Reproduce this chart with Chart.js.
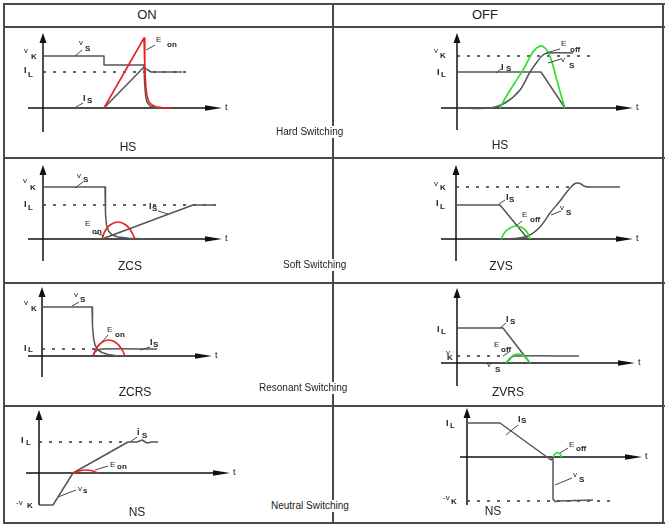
<!DOCTYPE html>
<html><head><meta charset="utf-8">
<script src="https://cdn.jsdelivr.net/npm/chart.js@4.4.1/dist/chart.umd.min.js"></script>
<style>
html,body{margin:0;padding:0;background:#fff}
body{width:667px;height:528px;position:relative;overflow:hidden;font-family:"Liberation Sans",Arial,sans-serif;color:#222}
canvas{position:absolute}
.ln{position:absolute;background:#4a4a4a;z-index:2}
.tx{position:absolute;white-space:nowrap;line-height:1;transform:translate(-50%,-50%);z-index:3}
.mid{position:absolute;white-space:nowrap;line-height:1;font-size:10px;background:#fff;padding:1px 0;transform:translateY(-50%);z-index:3}
</style></head><body>
<script>
// ---------- data (time offset from origin, value above origin) ----------
// Hard switching ON
const hsOnEon = [[61,0],[101,70],[101.8,40],[102.8,22],[104,12],[106,6],[109,3],[113,1.2],[120,0.3],[129,0]];
const hsOnVs  = [[0,52],[61,52],[61,43],[101,43],[101.6,25],[102.6,12],[104,6],[107,2],[112,0.5],[120,0]];
const hsOnIs  = [[61,0],[101,41],[104,38.5],[108,36],[139,36]];
const hsOnIL  = [[0,36],[150,36]];
// Hard switching OFF
const hsOffEoff = [[43,0],[49,11],[57,24],[66,38],[76,56],[83,62],[88,60],[93,52],[99,31],[104,13],[108,0]];
const hsOffVs   = [[0,0],[33,0],[48,5],[63,18],[73,36],[80,46],[86,53],[91,55],[116,55]];
const hsOffIs   = [[0,36],[84,36],[108,0]];
const hsOffVK   = [[0,52],[138,52]];
// ZCS (ON)
const zcsEon = [[59,0],[62,8],[67,14],[75,17],[83,14],[88,8],[92,0]];
const zcsVs  = [[0,52],[62,52],[62.5,25],[63.5,14],[65.5,8],[69,4],[75,2],[86,0.7],[105,0]];
const zcsIs  = [[59,0],[150,34],[170,34]];
const zcsIL  = [[0,34],[174,34]];
// ZVS (OFF)
const zvsEoff = [[45,0],[49,7],[54,11],[60,13],[66,11.5],[71,7],[74,0]];
const zvsVs   = [[44,0],[58,0.5],[72,3],[84,12],[94,26],[104,38],[110,46],[115,52],[119,55.5],[122,56],[125,55],[129,52.5],[135,52],[164,52]];
const zvsIs   = [[0,34],[44,34],[72,0]];
const zvsVK   = [[0,52],[114,52]];
// ZCRS (ON)
const zcrsEon = [[51,0],[54,7],[59,13],[66,16],[73,14],[79,8],[83,0]];
const zcrsVs  = [[0,49],[50,49],[50.5,30],[51.5,18],[53,11],[56,6],[60,3.5],[66,1.5],[73,0.5],[85,0]];
const zcrsIs  = [[51,0],[53,4],[56,6],[60,7],[115,7]];
const zcrsIL  = [[0,7],[53,7]];
// ZVRS (OFF)
const zvrsEoff = [[49,0],[53,5],[57,8],[61,9],[66,7.5],[70,4],[73,0]];
const zvrsVs   = [[49,0],[52,3],[55,6],[58,7],[122,7]];
const zvrsIs   = [[0,35],[46,35],[73,0]];
const zvrsVK   = [[0,7],[49,7]];
// NS (ON)
const nsOnEon  = [[34,0],[40,2],[47,3],[53,2.2],[59,0]];
const nsOnVsIs = [[0,-32],[14,-32],[34,0],[89,31],[98,31],[103,33],[108,30],[113,31],[119,31]];
const nsOnIL   = [[0,31],[89,31]];
// NS (OFF)
const nsOffEoff = [[86,0],[88,3],[90.5,4.3],[93,3],[94.5,0]];
const nsOffIs   = [[0,34],[33,34],[84,-3],[86,0]];
const nsOffVs   = [[86,0],[86,-42],[88,-44.5],[92,-44],[126,-43]];
const nsOffVK   = [[0,-44],[146,-44]];

// ---------- text ----------
const headers = ['ON','OFF'];
const modeNames = ['HS','HS','ZCS','ZVS','ZCRS','ZVRS','NS','NS'];
const rowNames = ['Hard Switching','Soft Switching','Resonant Switching','Neutral Switching'];

// ---------- styles ----------
const STY = {
  red:  {c:'#e8231f', w:1.6, t:0},
  redc: {c:'#e8231f', w:1.6, t:0.4},
  grn:  {c:'#2fe02f', w:1.7, t:0.4},
  wave: {c:'#555555', w:1.5, t:0},
  wavec:{c:'#555555', w:1.5, t:0.35},
  dash: {c:'#333333', w:1.3, t:0, d:[3,7]}
};

// ---------- layout ----------
const cells = [
 {rect:[3,27,333,158], o:[43,108], xa:[-15,179], ya:[-24,75], s:[[hsOnEon,'red'],[hsOnVs,'wave'],[hsOnIs,'wave'],[hsOnIL,'dash']],
  lab:[['v',24,51,'K',31,57],['I',24,71,'L',28,75],['v',79,43,'S',85,49],['I',83,99,'S',87,101],['E',156,40,'on',167,45]],
  lead:[[75,56,82,50],[76,107,83,103],[146,50,155,45]], name:[128,147]},
 {rect:[333,27,663,158], o:[457,108], xa:[-16,176], ya:[-22,75], s:[[hsOffEoff,'grn'],[hsOffVs,'wavec'],[hsOffIs,'wave'],[hsOffVK,'dash']],
  lab:[['v',434,51,'K',440,56],['I',437,73,'L',441,75],['I',501,68,'S',506,69],['E',561,44,'off',570,50],['v',561,60,'S',569,66]],
  lead:[[496,73,501,69],[546,53,560,49],[548,63,561,59]], name:[500,145]},
 {rect:[3,158,333,283], o:[43,239], xa:[-15,179], ya:[-22,74], s:[[zcsEon,'redc'],[zcsVs,'wave'],[zcsIs,'wave'],[zcsIL,'dash']],
  lab:[['v',23,181,'K',30,188],['I',24,205,'L',28,208],['v',77,176,'S',83,180],['I',149,207,'S',152,209],['E',85,224,'on',92,232]],
  lead:[[75,188,83,182],[158,211,168,214],[96,233,104,236]], name:[130,266]},
 {rect:[333,158,663,283], o:[456,239], xa:[-15,177], ya:[-22,74], s:[[zvsEoff,'grn'],[zvsVs,'wavec'],[zvsIs,'wave'],[zvsVK,'dash']],
  lab:[['v',434,184,'K',440,188],['I',436,204,'L',440,207],['I',506,198,'S',509,200],['E',522,215,'off',530,220],['v',560,208,'S',566,213]],
  lead:[[499,204,505,200],[516,226,522,221],[551,215,561,211]], name:[501,266]},
 {rect:[3,283,333,406], o:[42,356], xa:[-14,170], ya:[-21,69], s:[[zcrsEon,'redc'],[zcrsVs,'wave'],[zcrsIs,'wavec'],[zcrsIL,'dash']],
  lab:[['v',24,303,'K',31,309],['I',24,349,'L',28,350],['v',74,295,'S',80,300],['E',107,330,'on',115,335],['I',150,343,'S',153,345]],
  lead:[[72,306,79,302],[102,342,108,335],[140,350,150,347]], name:[135,392]},
 {rect:[333,283,663,406], o:[457,363], xa:[-16,178], ya:[-23,75], s:[[zvrsEoff,'grn'],[zvrsVs,'wavec'],[zvrsIs,'wave'],[zvrsVK,'dash']],
  lab:[['I',437,330,'L',441,332],['I',506,320,'S',510,322],['E',494,345,'off',501,350],['v',446,353,'K',447,358],['v',487,365,'S',495,370]],
  lead:[[500,328,506,323],[503,356,509,352]], name:[508,392]},
 {rect:[3,406,333,523], o:[39,473], xa:[-13,191], ya:[-32,63], s:[[nsOnEon,'redc'],[nsOnVsIs,'wave'],[nsOnIL,'dash']],
  lab:[['I',21,441,'L',26,443],['-v',16,503,'K',27,506],['i',137,433,'S',142,436],['E',110,465,'on',117,467],['v',78,489,'s',83,491]],
  lead:[[130,442,137,437],[95,470,108,466],[58,497,76,490]], name:[137,512]},
 {rect:[333,406,663,523], o:[467,457], xa:[-7,175], ya:[-48,49], s:[[nsOffEoff,'grn'],[nsOffIs,'wave'],[nsOffVs,'wave'],[nsOffVK,'dash']],
  lab:[['I',446,424,'L',450,426],['I',518,420,'S',521,421],['E',569,445,'off',576,449],['v',573,475,'S',579,480],['-v',443,498,'K',451,502]],
  lead:[[506,435,518,425],[560,453,568,448],[555,485,572,478]], name:[493,511]}
];
const FONT = '"Liberation Sans", Arial, sans-serif';

function addDiv(cls, css, text){
  const d=document.createElement('div'); d.className=cls; Object.assign(d.style, css);
  if(text!==undefined) d.textContent=text; document.body.appendChild(d); return d;
}

// table grid
addDiv('ln',{left:'3px',top:'3px',width:'662px',height:'2px'});
addDiv('ln',{left:'3px',top:'522px',width:'662px',height:'2px'});
addDiv('ln',{left:'3px',top:'3px',width:'2px',height:'521px'});
addDiv('ln',{left:'662px',top:'3px',width:'2px',height:'521px'});
[27,158,283,406].forEach(y=>addDiv('ln',{left:'3px',top:(y-1)+'px',width:'662px',height:'2px'}));
addDiv('ln',{left:'332px',top:'3px',width:'2px',height:'521px'});

// headers
addDiv('tx',{left:'147px',top:'14px',fontSize:'13px'},headers[0]);
addDiv('tx',{left:'485px',top:'14px',fontSize:'13px'},headers[1]);
// row names
[[276,132],[283,265],[259,388],[271,506]].forEach((p,i)=>addDiv('mid',{left:p[0]+'px',top:p[1]+'px'},rowNames[i]));

cells.forEach((cell,ci)=>{
  const [x0,y0,x1,y1]=cell.rect, [ox,oy]=cell.o;
  const w=x1-x0, h=y1-y0;
  const cv=document.createElement('canvas');
  cv.width=w; cv.height=h; cv.style.left=x0+'px'; cv.style.top=y0+'px'; cv.style.width=w+'px'; cv.style.height=h+'px';
  document.body.appendChild(cv);
  addDiv('tx',{left:cell.name[0]+'px',top:cell.name[1]+'px',fontSize:'12px'},modeNames[ci]);

  const datasets = cell.s.map(([arr,k])=>{
    const st=STY[k];
    return {data:arr.map(p=>({x:p[0],y:p[1]})), borderColor:st.c, borderWidth:st.w, tension:st.t,
      borderDash:st.d||[], pointRadius:0, fill:false, clip:false, borderCapStyle:'butt', borderJoinStyle:'round'};
  });

  const plug = {
    id:'diagram'+ci,
    beforeDatasetsDraw(chart){
      const {ctx, scales:{x,y}}=chart;
      const X=v=>x.getPixelForValue(v), Y=v=>y.getPixelForValue(v);
      const ax=X(0), ay=Y(0);
      ctx.save();
      ctx.strokeStyle='#111'; ctx.fillStyle='#111'; ctx.lineWidth=1.5;
      const ty=Y(cell.ya[1]);
      ctx.beginPath(); ctx.moveTo(ax,Y(cell.ya[0])); ctx.lineTo(ax,ty+8); ctx.stroke();
      ctx.beginPath(); ctx.moveTo(ax,ty); ctx.lineTo(ax-3.5,ty+10); ctx.lineTo(ax+3.5,ty+10); ctx.closePath(); ctx.fill();
      const tx=X(cell.xa[1]);
      ctx.beginPath(); ctx.moveTo(X(cell.xa[0]),ay); ctx.lineTo(tx-10,ay); ctx.stroke();
      ctx.beginPath(); ctx.moveTo(tx,ay); ctx.lineTo(tx-17,ay-2.8); ctx.lineTo(tx-17,ay+2.8); ctx.closePath(); ctx.fill();
      ctx.font='9px '+FONT; ctx.textBaseline='middle'; ctx.textAlign='left';
      ctx.fillText('t',tx+3,ay);
      ctx.restore();
    },
    afterDatasetsDraw(chart){
      const {ctx, scales:{x,y}}=chart;
      const PX=v=>x.getPixelForValue(v-ox), PY=v=>y.getPixelForValue(oy-v);
      ctx.save();
      ctx.strokeStyle='#444'; ctx.lineWidth=1;
      cell.lead.forEach(l=>{ctx.beginPath();ctx.moveTo(PX(l[0]),PY(l[1]));ctx.lineTo(PX(l[2]),PY(l[3]));ctx.stroke();});
      ctx.fillStyle='#222'; ctx.textBaseline='middle'; ctx.textAlign='left';
      cell.lab.forEach(([a,axp,ayp,b,bx,by])=>{
        ctx.font=(/^[Ii]$/.test(a)?'bold 9px ':'8px ')+FONT;
        ctx.fillText(a,PX(axp),PY(ayp));
        ctx.font='bold 8px '+FONT;
        ctx.fillText(b,PX(bx),PY(by));
      });
      ctx.restore();
    }
  };

  new Chart(cv,{
    type:'line',
    data:{datasets},
    options:{
      responsive:false, animation:false, devicePixelRatio:1, events:[],
      layout:{padding:0},
      plugins:{legend:{display:false}, tooltip:{enabled:false}},
      scales:{
        x:{type:'linear', display:false, min:x0-ox, max:x1-ox},
        y:{type:'linear', display:false, min:oy-y1, max:oy-y0}
      }
    },
    plugins:[plug]
  });
});
</script>
</body></html>
